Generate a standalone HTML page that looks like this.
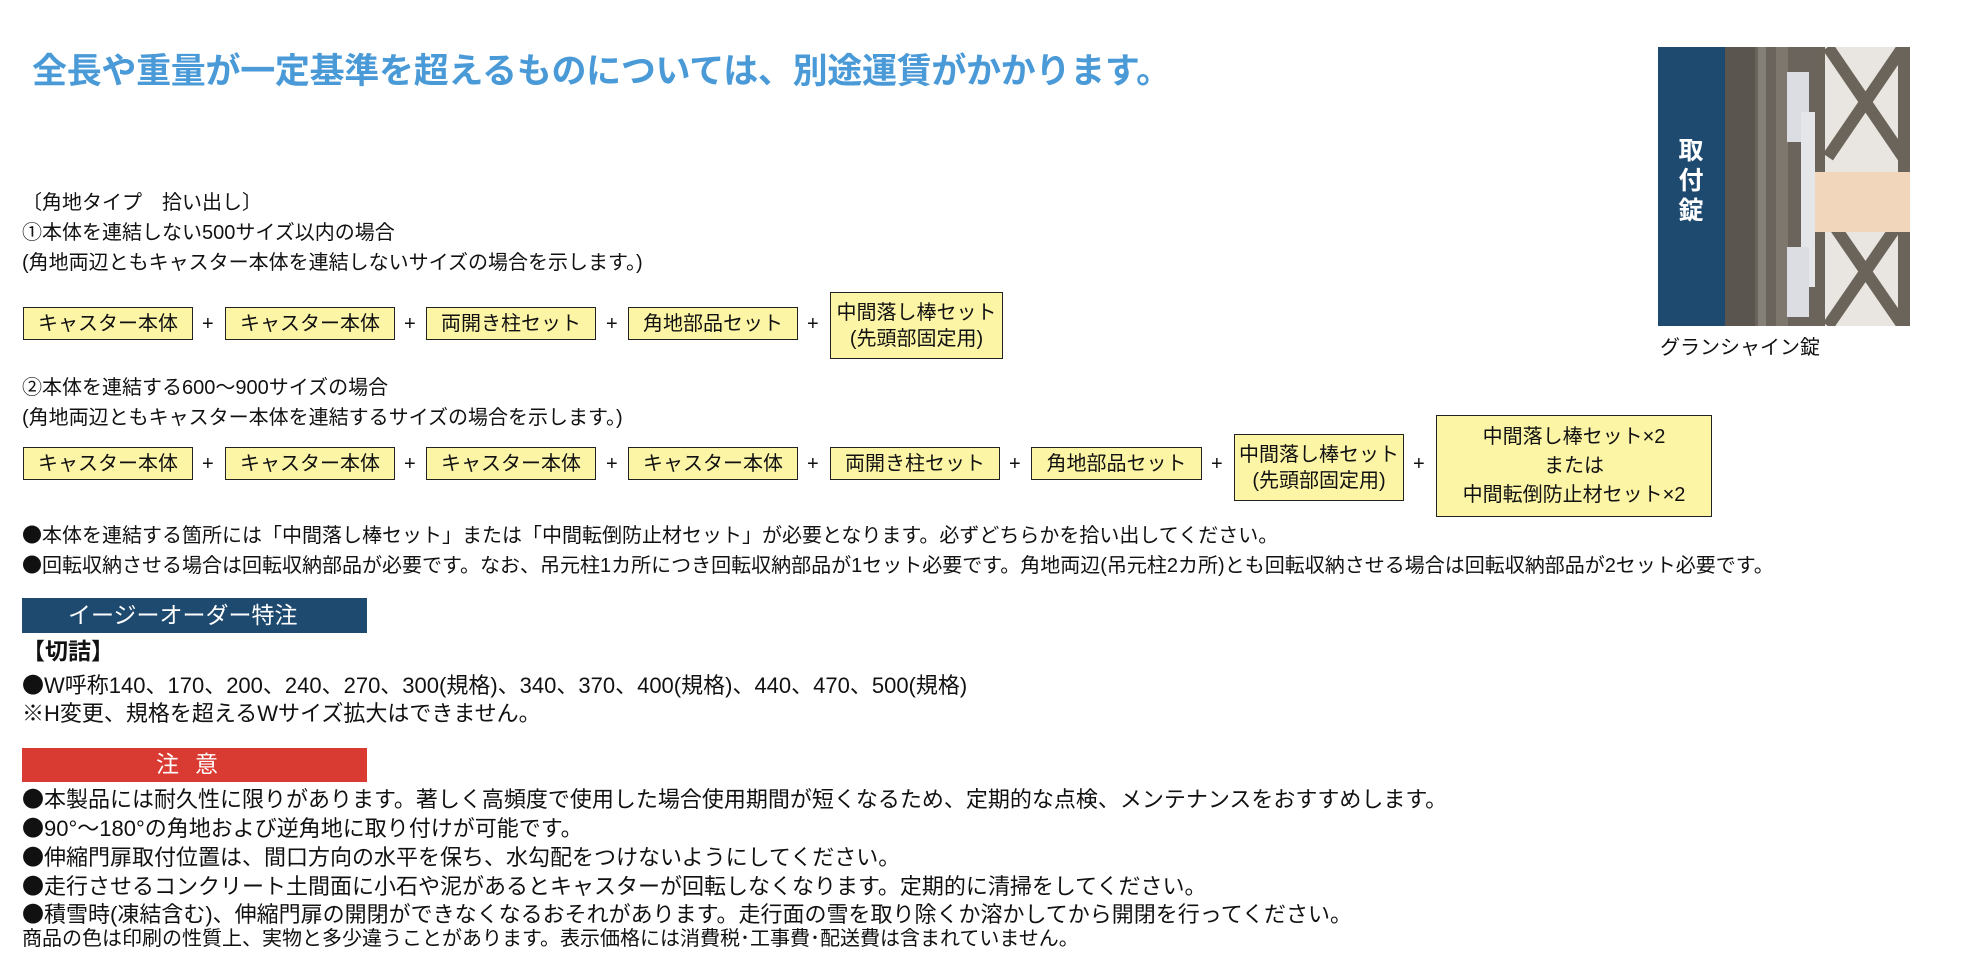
<!DOCTYPE html>
<html><head><meta charset="utf-8">
<style>
*{margin:0;padding:0;box-sizing:border-box}
body{width:1984px;height:959px;background:#fff;position:relative;overflow:hidden;font-family:"Liberation Sans","Noto Sans CJK JP",sans-serif;color:#111}
.t{position:absolute;white-space:nowrap;line-height:1}
.b{position:absolute;background:#fcf5a6;border:1.5px solid #222;display:flex;align-items:center;justify-content:center;text-align:center;font-size:20px;line-height:1.3;white-space:nowrap}
.p{position:absolute;font-size:20px;line-height:1}
.d{font-family:"Noto Sans CJK JP",sans-serif}
</style></head><body>
<div class="t" style="left:32px;top:54px;font-size:35px;letter-spacing:-0.3px;color:#4a9ad8;font-weight:bold">全長や重量が一定基準を超えるものについては、別途運賃がかかります。</div>

<div class="t" style="left:22px;top:193px;font-size:20px">〔角地タイプ　拾い出し〕</div>
<div class="t" style="left:22px;top:223px;font-size:20px">①本体を連結しない500サイズ以内の場合</div>
<div class="t" style="left:22px;top:253px;font-size:20px">(角地両辺ともキャスター本体を連結しないサイズの場合を示します。)</div>

<div class="b" style="left:23px;top:307px;width:170px;height:33px">キャスター本体</div>
<div class="p" style="left:202px;top:314px">+</div>
<div class="b" style="left:225px;top:307px;width:170px;height:33px">キャスター本体</div>
<div class="p" style="left:404px;top:314px">+</div>
<div class="b" style="left:426px;top:307px;width:170px;height:33px">両開き柱セット</div>
<div class="p" style="left:606px;top:314px">+</div>
<div class="b" style="left:628px;top:307px;width:170px;height:33px">角地部品セット</div>
<div class="p" style="left:807px;top:314px">+</div>
<div class="b" style="left:830px;top:292px;width:173px;height:67px">中間落し棒セット<br>(先頭部固定用)</div>

<div class="t" style="left:22px;top:378px;font-size:20px">②本体を連結する600～900サイズの場合</div>
<div class="t" style="left:22px;top:408px;font-size:20px">(角地両辺ともキャスター本体を連結するサイズの場合を示します。)</div>

<div class="b" style="left:23px;top:447px;width:170px;height:33px">キャスター本体</div>
<div class="p" style="left:202px;top:454px">+</div>
<div class="b" style="left:225px;top:447px;width:170px;height:33px">キャスター本体</div>
<div class="p" style="left:404px;top:454px">+</div>
<div class="b" style="left:426px;top:447px;width:170px;height:33px">キャスター本体</div>
<div class="p" style="left:606px;top:454px">+</div>
<div class="b" style="left:628px;top:447px;width:170px;height:33px">キャスター本体</div>
<div class="p" style="left:807px;top:454px">+</div>
<div class="b" style="left:830px;top:447px;width:170px;height:33px">両開き柱セット</div>
<div class="p" style="left:1009px;top:454px">+</div>
<div class="b" style="left:1031px;top:447px;width:171px;height:33px">角地部品セット</div>
<div class="p" style="left:1211px;top:454px">+</div>
<div class="b" style="left:1234px;top:434px;width:170px;height:67px">中間落し棒セット<br>(先頭部固定用)</div>
<div class="p" style="left:1413px;top:454px">+</div>
<div class="b" style="left:1436px;top:415px;width:276px;height:102px;line-height:1.45">中間落し棒セット×2<br>または<br>中間転倒防止材セット×2</div>

<div class="t" style="left:22px;top:524px;font-size:20px"><span class="d">●</span>本体を連結する箇所には「中間落し棒セット」または「中間転倒防止材セット」が必要となります。必ずどちらかを拾い出してください。</div>
<div class="t" style="left:22px;top:554px;font-size:20px"><span class="d">●</span>回転収納させる場合は回転収納部品が必要です。なお、吊元柱1カ所につき回転収納部品が1セット必要です。角地両辺(吊元柱2カ所)とも回転収納させる場合は回転収納部品が2セット必要です。</div>

<div style="position:absolute;left:22px;top:598px;width:345px;height:35px;background:#1f4a70"></div>
<div class="t" style="left:68px;top:604px;font-size:23px;color:#fff">イージーオーダー特注</div>
<div class="t" style="left:22px;top:640px;font-size:23px;font-weight:bold">【切詰】</div>
<div class="t" style="left:22px;top:673px;font-size:22px"><span class="d">●</span>W呼称140、170、200、240、270、300(規格)、340、370、400(規格)、440、470、500(規格)</div>
<div class="t" style="left:22px;top:703px;font-size:22px">※H変更、規格を超えるWサイズ拡大はできません。</div>

<div style="position:absolute;left:22px;top:748px;width:345px;height:34px;background:#d93a32"></div>
<div class="t" style="left:156px;top:753px;font-size:23px;color:#fff;letter-spacing:16px">注意</div>
<div class="t" style="left:22px;top:787px;font-size:22px"><span class="d">●</span>本製品には耐久性に限りがあります。著しく高頻度で使用した場合使用期間が短くなるため、定期的な点検、メンテナンスをおすすめします。</div>
<div class="t" style="left:22px;top:816px;font-size:22px"><span class="d">●</span>90°～180°の角地および逆角地に取り付けが可能です。</div>
<div class="t" style="left:22px;top:845px;font-size:22px"><span class="d">●</span>伸縮門扉取付位置は、間口方向の水平を保ち、水勾配をつけないようにしてください。</div>
<div class="t" style="left:22px;top:874px;font-size:22px"><span class="d">●</span>走行させるコンクリート土間面に小石や泥があるとキャスターが回転しなくなります。定期的に清掃をしてください。</div>
<div class="t" style="left:22px;top:902px;font-size:22px"><span class="d">●</span>積雪時(凍結含む)、伸縮門扉の開閉ができなくなるおそれがあります。走行面の雪を取り除くか溶かしてから開閉を行ってください。</div>
<div class="t" style="left:22px;top:929px;font-size:20px">商品の色は印刷の性質上、実物と多少違うことがあります。表示価格には消費税･工事費･配送費は含まれていません。</div>

<svg style="position:absolute;left:1658px;top:47px" width="252" height="279" viewBox="0 0 252 279">
<rect width="252" height="279" fill="#6a645c"/>
<rect x="67" y="0" width="30" height="279" fill="#5a554e"/>
<rect x="100" y="0" width="8" height="279" fill="#858077"/>
<rect x="118" y="0" width="12" height="279" fill="#7d776e"/>
<rect x="160" y="0" width="92" height="279" fill="#e9e6e1"/>
<g stroke="#6a645b" stroke-width="12" fill="none">
<path d="M170 0 L245 110 M245 0 L170 110 M170 170 L245 279 M245 170 L170 279"/>
</g>
<rect x="155" y="0" width="12" height="279" fill="#6a645b"/>
<rect x="240" y="0" width="12" height="279" fill="#6a645b"/>
<rect x="150" y="125" width="102" height="60" fill="#f1d6bb"/>
<rect x="129" y="25" width="22" height="70" fill="#dcdde2"/>
<rect x="143" y="65" width="14" height="175" fill="#e4e6ea"/>
<rect x="129" y="200" width="22" height="70" fill="#dcdde2"/>
<rect x="0" y="0" width="67" height="279" fill="#1f4a70"/>
<text x="33" y="112" font-size="25" font-weight="bold" fill="#fff" text-anchor="middle" font-family="Noto Sans CJK JP,sans-serif">取</text>
<text x="33" y="142" font-size="25" font-weight="bold" fill="#fff" text-anchor="middle" font-family="Noto Sans CJK JP,sans-serif">付</text>
<text x="33" y="172" font-size="25" font-weight="bold" fill="#fff" text-anchor="middle" font-family="Noto Sans CJK JP,sans-serif">錠</text>
</svg>
<div class="t" style="left:1660px;top:338px;font-size:20px">グランシャイン錠</div>
</body></html>
